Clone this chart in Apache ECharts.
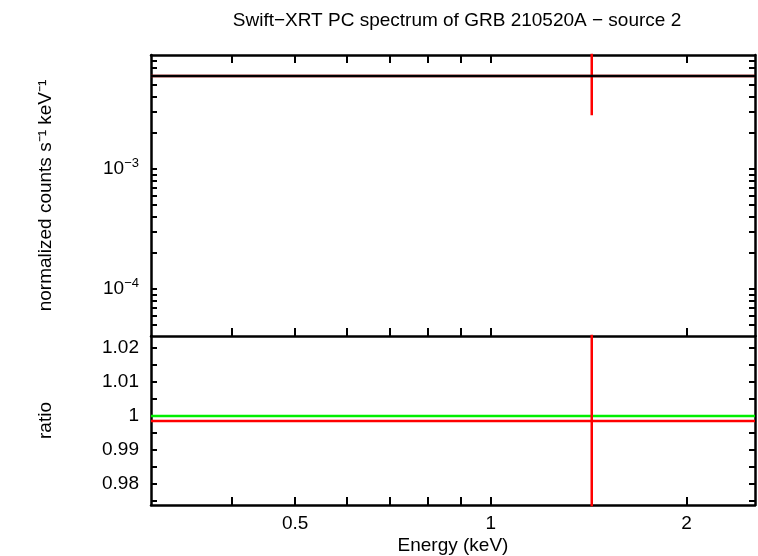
<!DOCTYPE html>
<html>
<head>
<meta charset="utf-8">
<script src="https://cdn.jsdelivr.net/npm/echarts@6/dist/echarts.min.js"></script>
</head>
<body style="margin:0">
<div id="main" style="width:758px;height:556px;"></div>
<script>
// energy range of the single bin (keV)
var eMin = 0.3, eMax = 2.55;
var binCenter = 1.43;
// spectrum panel
var modelFlux = 5.96e-3;
var dataFlux = 5.96e-3;
var dataErrLow = 2.8e-3, dataErrHigh = 1.5e-2;
// ratio panel
var ratioVal = 0.9985;
var ratioErrLow = 0.9, ratioErrHigh = 1.1;
var xTicks = [0.4, 0.5, 0.6, 0.7, 0.8, 0.9, 1, 2];
var xLabels = [0.5, 1, 2];
var yTopTicks = [5e-5, 6e-5, 7e-5, 8e-5, 9e-5, 1e-4, 2e-4, 3e-4, 4e-4, 5e-4, 6e-4, 7e-4, 8e-4, 9e-4, 1e-3, 2e-3, 3e-3, 4e-3, 5e-3, 6e-3, 7e-3, 8e-3];
var yTopLabels = [1e-4, 1e-3];
var ratioTicks = [0.975, 0.98, 0.985, 0.99, 0.995, 1, 1.005, 1.01, 1.015, 1.02];
var ratioLabels = [0.98, 0.99, 1, 1.01, 1.02];

var font = 'Liberation Sans';
var fs = 19;
var axLine = {lineStyle: {color: '#000', width: 2.5}};
function xAx(grid, pos, showLabel) {
  return {
    type: 'log', gridIndex: grid, position: pos, min: eMin, max: eMax,
    axisLine: axLine,
    axisTick: {inside: true, length: 8, customValues: xTicks, lineStyle: {width: 2}},
    axisLabel: {show: showLabel, customValues: xLabels, color: '#000', fontFamily: font, fontSize: fs, margin: 9},
    splitLine: {show: false},
    name: showLabel ? 'Energy (keV)' : '', nameLocation: 'middle', nameGap: 31,
    nameTextStyle: {color: '#000', fontFamily: font, fontSize: fs}
  };
}
function yTop(pos, show) {
  return {
    type: 'log', gridIndex: 0, position: pos, min: 4.06e-5, max: 8.9e-3,
    axisLine: axLine,
    axisTick: {inside: true, length: 6, customValues: yTopTicks, lineStyle: {width: 2}},
    axisLabel: {show: show, customValues: yTopLabels, fontFamily: font, fontSize: fs, color: '#000', margin: 12,
      formatter: function (v) { return '{b|10}{s|' + (Math.round(Math.log10(v)) === -3 ? '−3' : '−4') + '}'; },
      rich: {b: {fontSize: fs, fontFamily: font, color: '#000'}, s: {fontSize: 13, fontFamily: font, color: '#000', verticalAlign: 'top', padding: [0, 0, 12, 0]}}},
    splitLine: {show: false},
    name: show ? 'normalized counts s⁻¹ keV⁻¹' : '', nameLocation: 'middle', nameGap: 96,
    nameTextStyle: {color: '#000', fontFamily: font, fontSize: fs}
  };
}
function yBot(pos, show) {
  return {
    type: 'value', gridIndex: 1, position: pos, min: 0.9738, max: 1.0235,
    axisLine: axLine,
    axisTick: {inside: true, length: 6, customValues: ratioTicks, lineStyle: {width: 2}},
    axisLabel: {show: show, customValues: ratioLabels, fontFamily: font, fontSize: fs, color: '#000', margin: 12},
    splitLine: {show: false},
    name: show ? 'ratio' : '', nameLocation: 'middle', nameGap: 96,
    nameTextStyle: {color: '#000', fontFamily: font, fontSize: fs}
  };
}

var option = {
  animation: false,
  backgroundColor: '#fff',
  title: {text: 'Swift−XRT PC spectrum of GRB 210520A − source 2', left: 452, top: 6, textAlign: 'center',
    textStyle: {fontFamily: font, fontSize: fs, fontWeight: 'normal', color: '#000'}},
  grid: [
    {left: 151, top: 55, width: 604, height: 281},
    {left: 151, top: 336, width: 604, height: 169}
  ],
  xAxis: [xAx(0, 'bottom', false), xAx(0, 'top', false), xAx(1, 'bottom', true)],
  yAxis: [yTop('left', true), yTop('right', false), yBot('left', true), yBot('right', false)],
  series: [
    {type: 'line', xAxisIndex: 0, yAxisIndex: 0, symbol: 'none', lineStyle: {color: 'red', width: 2.5},
      data: [[eMin, dataFlux], [eMax, dataFlux]]},
    {type: 'line', xAxisIndex: 0, yAxisIndex: 0, symbol: 'none', lineStyle: {color: 'red', width: 2.5},
      data: [[binCenter, dataErrLow], [binCenter, dataErrHigh]]},
    {type: 'line', xAxisIndex: 0, yAxisIndex: 0, symbol: 'none', lineStyle: {color: '#000', width: 2.5},
      data: [[eMin, modelFlux], [eMax, modelFlux]]},
    {type: 'line', xAxisIndex: 2, yAxisIndex: 2, symbol: 'none', lineStyle: {color: '#00ee00', width: 2.5},
      data: [[eMin, 1], [eMax, 1]]},
    {type: 'line', xAxisIndex: 2, yAxisIndex: 2, symbol: 'none', lineStyle: {color: 'red', width: 2.5},
      data: [[eMin, ratioVal], [eMax, ratioVal]]},
    {type: 'line', xAxisIndex: 2, yAxisIndex: 2, symbol: 'none', lineStyle: {color: 'red', width: 2.5},
      data: [[binCenter, ratioErrLow], [binCenter, ratioErrHigh]]}
  ]
};
echarts.init(document.getElementById('main')).setOption(option);
</script>
</body>
</html>
